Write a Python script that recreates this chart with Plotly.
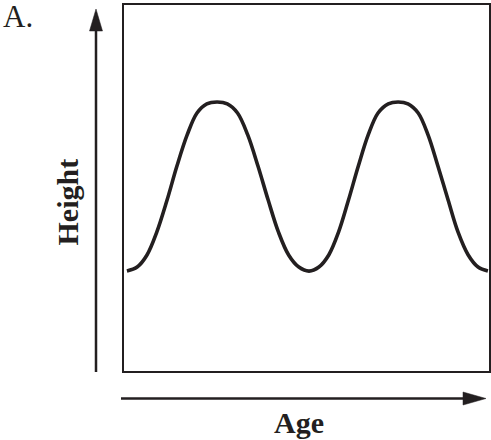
import plotly.graph_objects as go

# Data (Age and Height in arbitrary 0-100 units)
age = [0.8, 3.6, 6.3, 9.0, 11.8, 14.5, 17.3, 20.0, 22.7, 25.5,
       28.3, 31.1, 33.9, 36.7, 39.5, 42.3, 45.1, 47.9, 50.7,
       53.4, 56.1, 58.8, 61.5, 64.2, 66.9, 69.6, 72.4, 75.1,
       77.8, 80.6, 83.3, 86.0, 88.8, 91.5, 94.3, 97.0, 99.7]
height = [27.3, 28.4, 31.7, 38.0, 46.7, 56.0, 64.5, 70.5, 73.0, 73.5,
          73.0, 70.5, 64.5, 56.0, 46.7, 38.0, 31.7, 28.4, 27.3,
          28.4, 31.7, 38.0, 46.7, 56.0, 64.5, 70.5, 73.0, 73.5,
          73.0, 70.5, 64.5, 56.0, 46.7, 38.0, 31.7, 28.4, 27.3]

x_title = "Age"
y_title = "Height"
panel_label = "A."

W, H = 491, 440
L, R, T, B = 124, 2, 5, 69
PW, PH = W - L - R, H - T - B
INK = "#231f20"


def px(xp):
    return (xp - L) / PW


def py(yp):
    return (H - B - yp) / PH


fig = go.Figure()
fig.add_trace(go.Scatter(x=age, y=height, mode="lines",
                         line=dict(color=INK, width=3.6, shape="spline", smoothing=1),
                         hoverinfo="skip", showlegend=False))

axis_style = dict(showticklabels=False, showgrid=False, zeroline=False,
                  showline=True, mirror=True, linecolor=INK, linewidth=2.2,
                  ticks="", fixedrange=True)
fig.update_xaxes(range=[0, 100], **axis_style)
fig.update_yaxes(range=[0, 100], **axis_style)

shapes = []
# vertical arrow
shapes.append(dict(type="line", xref="paper", yref="paper",
                   x0=px(96), x1=px(96), y0=py(372), y1=py(28),
                   line=dict(color=INK, width=2.5)))
shapes.append(dict(type="path", xref="paper", yref="paper",
                   path=f"M {px(89.5)},{py(31)} L {px(102.5)},{py(31)} L {px(96)},{py(9)} Z",
                   fillcolor=INK, line=dict(color=INK, width=0.5)))
# horizontal arrow
shapes.append(dict(type="line", xref="paper", yref="paper",
                   x0=px(121), x1=px(466), y0=py(398.5), y1=py(398.5),
                   line=dict(color=INK, width=2.5)))
shapes.append(dict(type="path", xref="paper", yref="paper",
                   path=f"M {px(463)},{py(392)} L {px(463)},{py(405)} L {px(486)},{py(398.5)} Z",
                   fillcolor=INK, line=dict(color=INK, width=0.5)))

annotations = [
    dict(text=x_title, xref="paper", yref="paper", x=px(298.5), y=py(422.5),
         xanchor="center", yanchor="middle", showarrow=False,
         font=dict(family="Liberation Serif", size=30, color=INK, weight="bold")),
    dict(text=y_title, xref="paper", yref="paper", x=px(66.5), y=py(202),
         xanchor="center", yanchor="middle", showarrow=False, textangle=-90,
         font=dict(family="Liberation Serif", size=30, color=INK, weight="bold")),
    dict(text=panel_label, xref="paper", yref="paper", x=px(1), y=py(16.2),
         xanchor="left", yanchor="middle", showarrow=False,
         font=dict(family="Liberation Serif", size=31, color=INK)),
]

fig.update_layout(width=W, height=H,
                  margin=dict(l=L, r=R, t=T, b=B, pad=0, autoexpand=False),
                  paper_bgcolor="white", plot_bgcolor="white",
                  shapes=shapes, annotations=annotations)

fig.write_html("out.html", config=dict(displayModeBar=False),
               post_script="document.body.style.margin='0';document.body.style.overflow='hidden';")
